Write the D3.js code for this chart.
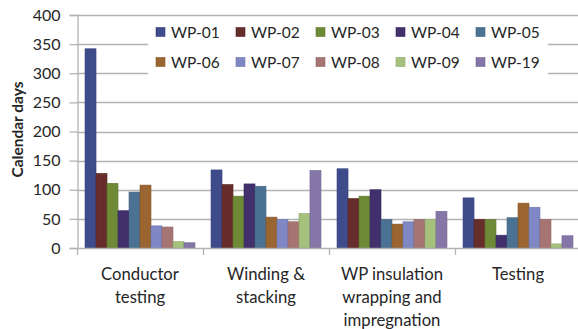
<!DOCTYPE html>
<html>
<head>
<meta charset="utf-8">
<script src="https://cdn.jsdelivr.net/npm/d3@7/dist/d3.min.js"></script>
<style>
  html, body { margin: 0; padding: 0; background: #fff; }
  svg { display: block; font-family: Lato, "Open Sans", "Liberation Sans", sans-serif; }
</style>
</head>
<body>
<svg id="chart" width="578" height="329"></svg>
<script>
// Process stages along the x axis (line-broken labels)
const categories = ["Conductor testing", "Winding & stacking", "WP insulation wrapping and impregnation", "Testing"];
const categoryLines = [["Conductor", "testing"], ["Winding &", "stacking"], ["WP insulation", "wrapping and", "impregnation"], ["Testing"]];

// Winding packs (series)
const series = ["WP-01", "WP-02", "WP-03", "WP-04", "WP-05", "WP-06", "WP-07", "WP-08", "WP-09", "WP-19"];
const colors = ["#3f4c8c", "#662d2b", "#6f8a37", "#41306b", "#4b7292", "#9a6530", "#7f88c4", "#a67573", "#a5c17c", "#8576a8"];

// Calendar days per stage, one array per winding pack
const wp01 = [342, 134, 136, 86];
const wp02 = [128, 109, 85, 49];
const wp03 = [111, 89, 89, 49];
const wp04 = [64, 110, 100, 22];
const wp05 = [96, 106, 49, 52];
const wp06 = [108, 53, 41, 77];
const wp07 = [38, 49, 45, 70];
const wp08 = [36, 45, 49, 49];
const wp09 = [11, 59, 49, 7];
const wp19 = [9, 133, 63, 21];
const values = [wp01, wp02, wp03, wp04, wp05, wp06, wp07, wp08, wp09, wp19];

const yTicks = [0, 50, 100, 150, 200, 250, 300, 350, 400];

const svg = d3.select("#chart");
const margin = { left: 77, right: -3, top: 15, bottom: 81 };
const W = 578, H = 329;
const x0 = margin.left, x1 = W - margin.right;
const yTop = margin.top, yBot = H - margin.bottom;

const x = d3.scaleBand().domain(categories).range([x0, x1]).paddingInner(0).paddingOuter(0);
const xs = d3.scaleBand().domain(series).range([0, x.bandwidth()]).paddingInner(0).paddingOuter(0.73);
const y = d3.scaleLinear().domain([0, 400]).range([yBot, yTop]);

const grid = "#b3b3b3";
const ink = "#262626";

// Horizontal gridlines
svg.append("g").selectAll("line").data(yTicks.filter(d => d > 0)).join("line")
  .attr("x1", x0).attr("x2", W)
  .attr("y1", d => Math.round(y(d)) + 0.5).attr("y2", d => Math.round(y(d)) + 0.5)
  .attr("stroke", grid).attr("stroke-width", 1.3);

// Y axis
const yAxis = d3.axisLeft(y).tickValues(yTicks).tickSize(8).tickPadding(9);
const gy = svg.append("g").attr("transform", `translate(${x0 + 0.5},0)`).call(yAxis);
gy.select(".domain").attr("stroke", grid).attr("stroke-width", 1.3);
gy.selectAll(".tick line").attr("stroke", grid).attr("stroke-width", 1.3);
gy.selectAll(".tick text").attr("font-size", 16).attr("fill", ink).attr("font-family", "Lato, sans-serif");

// Y axis title
svg.append("text")
  .attr("transform", `translate(23,${(yTop + yBot) / 2 - 2}) rotate(-90)`)
  .attr("text-anchor", "middle")
  .attr("font-size", 15.5).attr("font-weight", "bold").attr("fill", ink)
  .text("Calendar days");

// Bars
const gBars = svg.append("g");
categories.forEach((c, ci) => {
  series.forEach((s, si) => {
    const v = values[si][ci];
    gBars.append("rect")
      .attr("x", x(c) + xs(s))
      .attr("y", y(v))
      .attr("width", xs.bandwidth())
      .attr("height", y(0) - y(v))
      .attr("fill", colors[si])
      .attr("stroke", d3.color(colors[si]).darker(0.4))
      .attr("stroke-width", 0.6);
  });
});

// X axis baseline with category boundary ticks
const gx = svg.append("g");
gx.append("line").attr("x1", x0).attr("x2", W)
  .attr("y1", Math.round(yBot) + 0.5).attr("y2", Math.round(yBot) + 0.5)
  .attr("stroke", grid).attr("stroke-width", 1.3);
categories.forEach(c => {
  gx.append("line").attr("x1", x(c) + 0.5).attr("x2", x(c) + 0.5)
    .attr("y1", yBot).attr("y2", yBot + 7)
    .attr("stroke", grid).attr("stroke-width", 1.3);
});

// Category labels
categories.forEach((c, ci) => {
  const t = svg.append("text")
    .attr("text-anchor", "middle")
    .attr("font-size", 16.7).attr("fill", ink);
  categoryLines[ci].forEach((line, li) => {
    t.append("tspan").attr("x", x(c) + x.bandwidth() / 2).attr("y", yBot + 32 + li * 23).text(line);
  });
});

// Legend (overlaid on the plot, white background)
const lg = svg.append("g");
lg.append("rect").attr("x", 148).attr("y", 19).attr("width", 400).attr("height", 58).attr("fill", "#fff");
series.forEach((s, i) => {
  const col = i % 5, row = Math.floor(i / 5);
  const lx = 156 + col * 80, ly = 32 + row * 30;
  lg.append("rect").attr("x", lx).attr("y", ly - 4.5).attr("width", 9).attr("height", 9)
    .attr("fill", colors[i]).attr("stroke", d3.color(colors[i]).darker(0.4)).attr("stroke-width", 0.6);
  lg.append("text").attr("x", lx + 15).attr("y", ly + 5.5)
    .attr("font-size", 15.5).attr("fill", ink).text(s);
});
</script>
</body>
</html>
